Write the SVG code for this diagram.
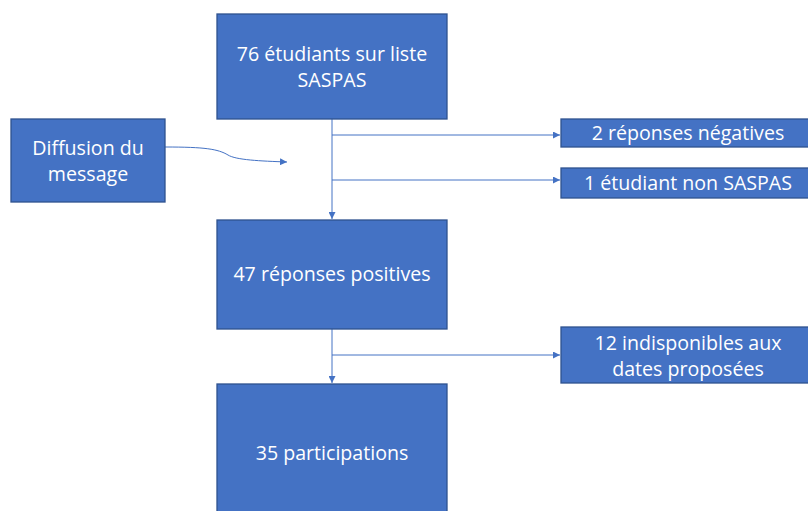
<svg xmlns="http://www.w3.org/2000/svg" width="808" height="511" viewBox="0 0 808 511">
<style>
.box{fill:#4472C4;stroke:#2F528F;stroke-width:1.3}
.t{font-family:"Open Sans","Liberation Sans",sans-serif;font-size:19.6px;fill:#fff;text-anchor:middle}
.c{fill:none;stroke:#4472C4;stroke-width:1}
</style>
<defs>
<marker id="ah" viewBox="0 0 10 10" refX="10" refY="5" markerWidth="7" markerHeight="7" markerUnits="userSpaceOnUse" orient="auto">
<path d="M0,0 L10,5 L0,10 z" fill="#4472C4"/>
</marker>
</defs>
<rect width="808" height="511" fill="#fff"/>
<g id="connectors">
<path class="c" d="M332,119 V219" marker-end="url(#ah)"/>
<path class="c" d="M332,135 H560" marker-end="url(#ah)"/>
<path class="c" d="M332,180 H560" marker-end="url(#ah)"/>
<path class="c" d="M332,329 V383" marker-end="url(#ah)"/>
<path class="c" d="M332,355 H560" marker-end="url(#ah)"/>
<path class="c" d="M165,147 C205,147 218,149 228,155 C236,160 260,161 287,162" marker-end="url(#ah)"/>
</g>
<g id="n1"><rect class="box" x="217" y="14" width="230" height="105"/>
<text class="t" x="332" y="61">76 étudiants sur liste</text><text class="t" x="332" y="87">SASPAS</text></g>
<g id="n2"><rect class="box" x="11" y="119" width="154" height="83"/>
<text class="t" x="88" y="155">Diffusion du</text><text class="t" x="88" y="181">message</text></g>
<g id="n3"><rect class="box" x="561" y="119" width="250" height="28"/>
<text class="t" x="688" y="140">2 réponses négatives</text></g>
<g id="n4"><rect class="box" x="561" y="168" width="250" height="30"/>
<text class="t" x="688" y="190">1 étudiant non SASPAS</text></g>
<g id="n5"><rect class="box" x="217" y="220" width="230" height="109"/>
<text class="t" x="332" y="281">47 réponses positives</text></g>
<g id="n6"><rect class="box" x="561" y="327" width="250" height="56"/>
<text class="t" x="688" y="350">12 indisponibles aux</text><text class="t" x="688" y="376">dates proposées</text></g>
<g id="n7"><rect class="box" x="217" y="384" width="230" height="140"/>
<text class="t" x="332" y="460">35 participations</text></g>
</svg>
